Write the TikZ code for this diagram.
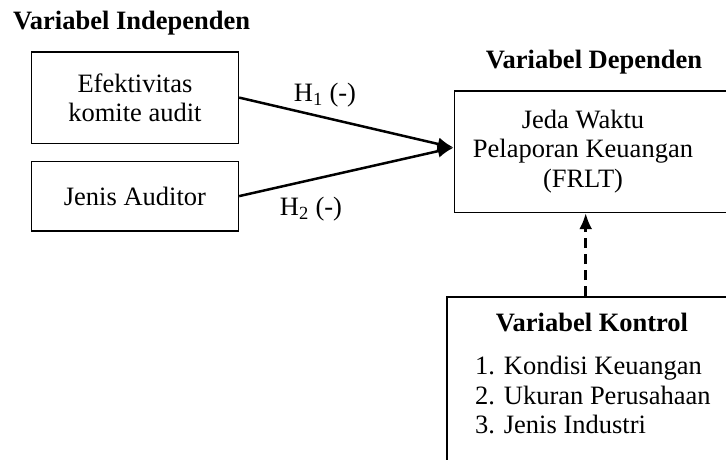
\documentclass[tikz,border=0pt]{standalone}
\usepackage{fontspec}
\setmainfont{Liberation Serif}
\usetikzlibrary{positioning,arrows.meta}
\tikzset{>={Latex[length=16pt,width=13pt]}}

\begin{document}
\begin{tikzpicture}[x=1pt,y=-1pt,
  font=\fontsize{26.5}{29.5}\selectfont,
  box/.style={draw,line width=1.5pt,inner sep=0pt},
  heading/.style={font=\fontsize{26.5}{29.5}\selectfont\bfseries},
  hyp/.style={->,line width=2.5pt},
  ctrl/.style={->,line width=2.5pt,dash pattern=on 10pt off 6pt}]
\useasboundingbox (0,0) rectangle (726,459);
\clip (0,0) rectangle (726,459);
% variabel independen
\node[heading,anchor=west,inner sep=0pt] (indep) at (13,23) {Variabel Independen};
\node[box,minimum width=207pt,minimum height=91.7pt,anchor=north west,align=center] (eka) at (30.7,51) {Efektivitas\\komite audit};
\node[box,minimum width=207pt,minimum height=69.3pt,anchor=north west] (ja) at (30.7,160.7) {Jenis Auditor};
% variabel dependen
\node[heading] (dephead) at (594,62) {Variabel Dependen};
\node[box,minimum width=300pt,minimum height=121.7pt,anchor=north west] (dep) at (453.7,90) {};
\node[align=center] (deptext) at (583,151.5) {Jeda Waktu\\Pelaporan Keuangan\\(FRLT)};
% variabel kontrol
\node[box,minimum width=300pt,minimum height=200pt,anchor=north west] (kontrol) at (446,296) {};
\node[heading] (konhead) at (592,322) {Variabel Kontrol};
\node[anchor=west,align=left,inner sep=0pt] (konlist) at (475,395) {1. Kondisi Keuangan\\2. Ukuran Perusahaan\\3. Jenis Industri};
% hipotesis
\coordinate (meet) at ([yshift=4pt]dep.west);
\draw[hyp] (eka.east) -- (meet);
\draw[hyp] (ja.east) -- (meet);
\node (h1) at (325,95) {H\textsubscript{1} (-)};
\node (h2) at (311,209) {H\textsubscript{2} (-)};
\coordinate (kin) at (585.7,296);
\draw[ctrl] (kin) -- (kin |- dep.south);
\end{tikzpicture}
\end{document}
